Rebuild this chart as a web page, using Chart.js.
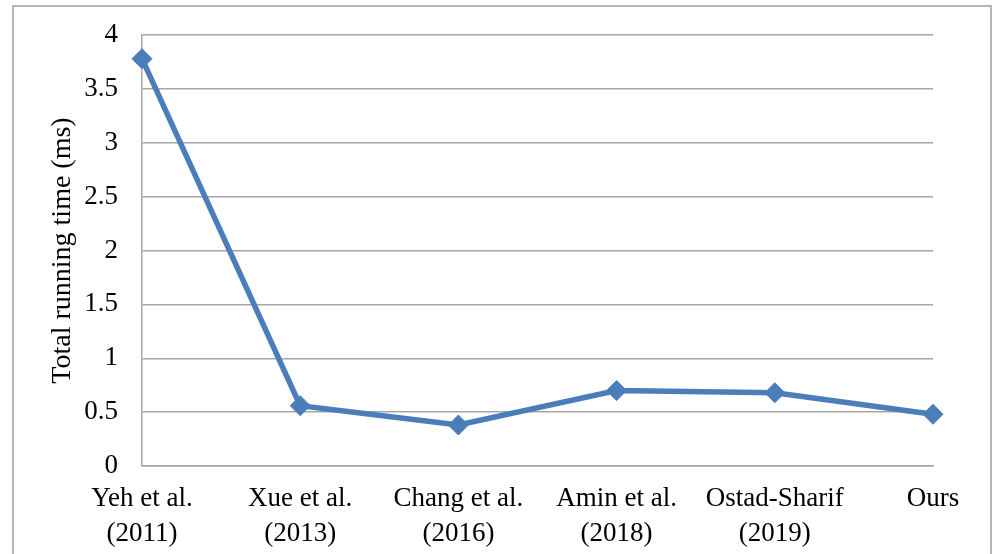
<!DOCTYPE html>
<html>
<head>
<meta charset="utf-8">
<script src="https://cdn.jsdelivr.net/npm/chart.js@4/dist/chart.umd.min.js"></script>
<style>
  html, body { margin: 0; padding: 0; background: #ffffff; overflow: hidden; }
  #wrap { position: relative; width: 995px; height: 554px; }
  #frame { position: absolute; left: 12px; top: 5px; width: 980px; height: 600px; border: 2px solid #b4b4b4; box-sizing: border-box; }
  canvas { position: absolute; left: 0; top: 0; }
</style>
</head>
<body>
<div id="wrap">
  <div id="frame"></div>
  <canvas id="c" width="995" height="554"></canvas>
</div>
<script>
const categories = [
  ["Yeh et al.", "(2011)"],
  ["Xue et al.", "(2013)"],
  ["Chang et al.", "(2016)"],
  ["Amin et al.", "(2018)"],
  ["Ostad-Sharif", "(2019)"],
  "Ours"
];
const runningTime = [3.78, 0.56, 0.38, 0.70, 0.68, 0.48];
const yAxisTitle = "Total running time (ms)";
const yMin = 0, yMax = 4, yStep = 0.5;

const FONT = "'Liberation Serif', 'Times New Roman', serif";
const BLUE = "#4a7ebb";
const GRID = "#a6a6a6";

new Chart(document.getElementById("c"), {
  type: "line",
  data: {
    labels: categories,
    datasets: [{
      data: runningTime,
      borderColor: BLUE,
      backgroundColor: BLUE,
      borderWidth: 5.5,
      pointStyle: "rectRot",
      pointRadius: 10,
      pointHoverRadius: 10,
      pointBackgroundColor: BLUE,
      pointBorderColor: BLUE,
      pointBorderWidth: 1,
      tension: 0,
      clip: false
    }]
  },
  options: {
    responsive: false,
    animation: false,
    devicePixelRatio: 1,
    layout: { padding: { top: 35, right: 62, left: 0, bottom: 0 } },
    plugins: { legend: { display: false }, tooltip: { enabled: false } },
    scales: {
      x: {
        type: "category",
        offset: false,
        grid: { display: false, drawTicks: false },
        border: { display: true, color: GRID, width: 1.5 },
        ticks: {
          color: "#000",
          font: { family: FONT, size: 27, lineHeight: 1.27 },
          padding: 16,
          maxRotation: 0,
          autoSkip: false
        },
        afterFit: (s) => { s.height = 88; s.paddingLeft = 0; s.paddingRight = 0; }
      },
      y: {
        min: yMin,
        max: yMax,
        grid: { color: GRID, lineWidth: 1.5, drawTicks: false },
        border: { display: true, color: GRID, width: 1.5 },
        ticks: {
          stepSize: yStep,
          color: "#000",
          font: { family: FONT, size: 27 },
          padding: 24,
          callback: (v) => String(v)
        },
        title: {
          display: true,
          text: yAxisTitle,
          color: "#000",
          font: { family: FONT, size: 28, lineHeight: 1.2 },
          padding: { top: 46, bottom: 0 }
        },
        afterFit: (s) => { s.width = 142; s.paddingTop = 0; s.paddingBottom = 0; }
      }
    }
  }
});
</script>
</body>
</html>
